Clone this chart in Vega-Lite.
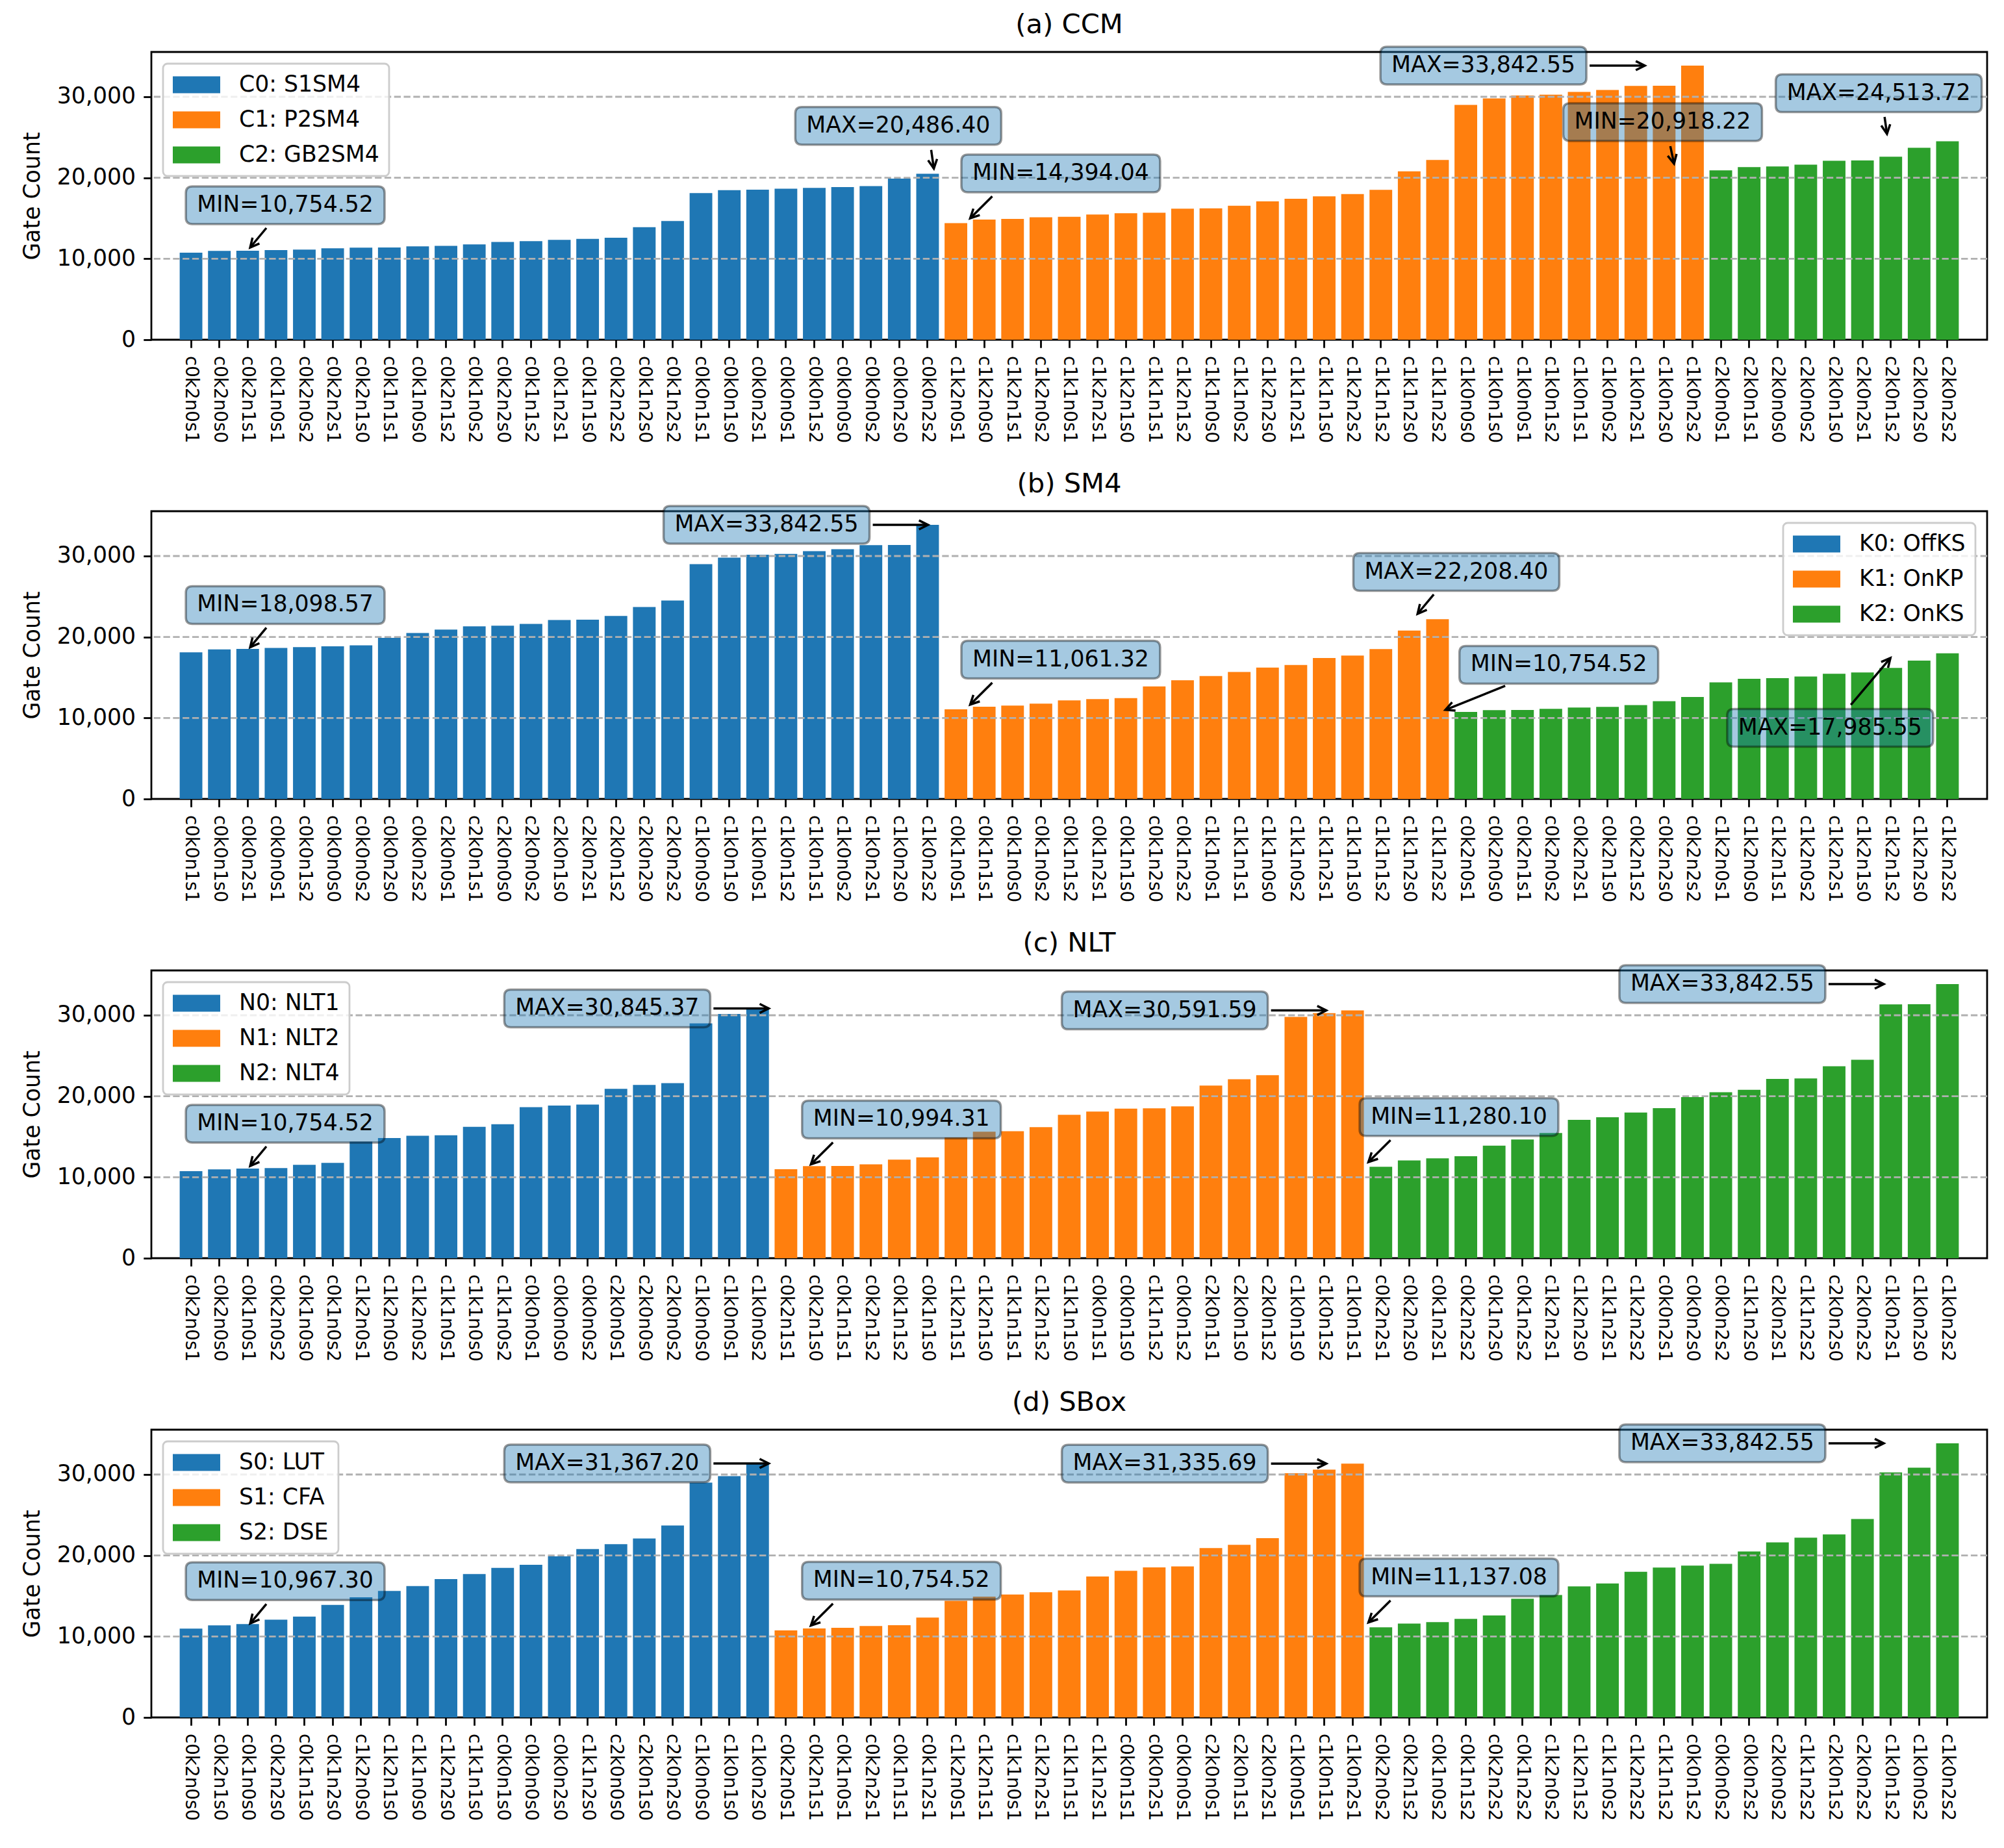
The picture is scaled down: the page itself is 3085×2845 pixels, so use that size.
{
  "$schema": "https://vega.github.io/schema/vega-lite/v6.json",
  "description": "Gate count per configuration, grouped four ways",
  "background": "white",
  "padding": {"left": 30, "top": 16, "right": 0, "bottom": 0},
  "spacing": 39,
  "config": {
    "font": "DejaVu Sans",
    "numberFormat": ",",
    "view": {"stroke": "black", "strokeWidth": 2.8},
    "title": {"fontSize": 41.7, "fontWeight": "normal", "color": "black", "offset": 5, "baseline": "alphabetic"},
    "axis": {"labelColor": "black", "tickColor": "black", "tickWidth": 2.8, "tickSize": 12.2, "labelPadding": 12.2, "domain": false, "grid": false, "titleColor": "black", "titleFontWeight": "normal"},
    "axisX": {"labelFontSize": 27.8, "labelAngle": 90, "labelAlign": "left", "labelBaseline": "middle", "labelOverlap": false},
    "axisY": {"labelFontSize": 34.7, "titleFontSize": 34.7, "titlePadding": 20},
    "legend": {"labelFontSize": 34.7, "labelColor": "black", "padding": 15, "rowPadding": 18, "labelOffset": 67, "strokeColor": "#cccccc", "fillColor": "rgba(255,255,255,0.8)", "cornerRadius": 7, "strokeWidth": 2.8, "offset": 18, "labelLimit": 600, "direction": "vertical"}
  },
  "resolve": {"scale": {"color": "independent", "x": "independent", "y": "independent"}, "legend": {"color": "independent"}},
  "datasets": {
    "gates": [
      {"cfg": "c0k2n0s1", "C": "C0: S1SM4", "K": "K2: OnKS", "N": "N0: NLT1", "S": "S1: CFA", "v": 10754.52},
      {"cfg": "c0k2n0s0", "C": "C0: S1SM4", "K": "K2: OnKS", "N": "N0: NLT1", "S": "S0: LUT", "v": 10967.30},
      {"cfg": "c0k2n1s1", "C": "C0: S1SM4", "K": "K2: OnKS", "N": "N1: NLT2", "S": "S1: CFA", "v": 10994.31},
      {"cfg": "c0k1n0s1", "C": "C0: S1SM4", "K": "K1: OnKP", "N": "N0: NLT1", "S": "S1: CFA", "v": 11061.32},
      {"cfg": "c0k2n0s2", "C": "C0: S1SM4", "K": "K2: OnKS", "N": "N0: NLT1", "S": "S2: DSE", "v": 11137.08},
      {"cfg": "c0k2n2s1", "C": "C0: S1SM4", "K": "K2: OnKS", "N": "N2: NLT4", "S": "S1: CFA", "v": 11280.10},
      {"cfg": "c0k2n1s0", "C": "C0: S1SM4", "K": "K2: OnKS", "N": "N1: NLT2", "S": "S0: LUT", "v": 11370},
      {"cfg": "c0k1n1s1", "C": "C0: S1SM4", "K": "K1: OnKP", "N": "N1: NLT2", "S": "S1: CFA", "v": 11390},
      {"cfg": "c0k1n0s0", "C": "C0: S1SM4", "K": "K1: OnKP", "N": "N0: NLT1", "S": "S0: LUT", "v": 11540},
      {"cfg": "c0k2n1s2", "C": "C0: S1SM4", "K": "K2: OnKS", "N": "N1: NLT2", "S": "S2: DSE", "v": 11600},
      {"cfg": "c0k1n0s2", "C": "C0: S1SM4", "K": "K1: OnKP", "N": "N0: NLT1", "S": "S2: DSE", "v": 11770},
      {"cfg": "c0k2n2s0", "C": "C0: S1SM4", "K": "K2: OnKS", "N": "N2: NLT4", "S": "S0: LUT", "v": 12080},
      {"cfg": "c0k1n1s2", "C": "C0: S1SM4", "K": "K1: OnKP", "N": "N1: NLT2", "S": "S2: DSE", "v": 12170},
      {"cfg": "c0k1n2s1", "C": "C0: S1SM4", "K": "K1: OnKP", "N": "N2: NLT4", "S": "S1: CFA", "v": 12340},
      {"cfg": "c0k1n1s0", "C": "C0: S1SM4", "K": "K1: OnKP", "N": "N1: NLT2", "S": "S0: LUT", "v": 12450},
      {"cfg": "c0k2n2s2", "C": "C0: S1SM4", "K": "K2: OnKS", "N": "N2: NLT4", "S": "S2: DSE", "v": 12600},
      {"cfg": "c0k1n2s0", "C": "C0: S1SM4", "K": "K1: OnKP", "N": "N2: NLT4", "S": "S0: LUT", "v": 13900},
      {"cfg": "c0k1n2s2", "C": "C0: S1SM4", "K": "K1: OnKP", "N": "N2: NLT4", "S": "S2: DSE", "v": 14650},
      {"cfg": "c0k0n1s1", "C": "C0: S1SM4", "K": "K0: OffKS", "N": "N1: NLT2", "S": "S1: CFA", "v": 18098.57},
      {"cfg": "c0k0n1s0", "C": "C0: S1SM4", "K": "K0: OffKS", "N": "N1: NLT2", "S": "S0: LUT", "v": 18460},
      {"cfg": "c0k0n2s1", "C": "C0: S1SM4", "K": "K0: OffKS", "N": "N2: NLT4", "S": "S1: CFA", "v": 18530},
      {"cfg": "c0k0n0s1", "C": "C0: S1SM4", "K": "K0: OffKS", "N": "N0: NLT1", "S": "S1: CFA", "v": 18650},
      {"cfg": "c0k0n1s2", "C": "C0: S1SM4", "K": "K0: OffKS", "N": "N1: NLT2", "S": "S2: DSE", "v": 18750},
      {"cfg": "c0k0n0s0", "C": "C0: S1SM4", "K": "K0: OffKS", "N": "N0: NLT1", "S": "S0: LUT", "v": 18850},
      {"cfg": "c0k0n0s2", "C": "C0: S1SM4", "K": "K0: OffKS", "N": "N0: NLT1", "S": "S2: DSE", "v": 18980},
      {"cfg": "c0k0n2s0", "C": "C0: S1SM4", "K": "K0: OffKS", "N": "N2: NLT4", "S": "S0: LUT", "v": 19900},
      {"cfg": "c0k0n2s2", "C": "C0: S1SM4", "K": "K0: OffKS", "N": "N2: NLT4", "S": "S2: DSE", "v": 20486.40},
      {"cfg": "c1k2n0s1", "C": "C1: P2SM4", "K": "K2: OnKS", "N": "N0: NLT1", "S": "S1: CFA", "v": 14394.04},
      {"cfg": "c1k2n0s0", "C": "C1: P2SM4", "K": "K2: OnKS", "N": "N0: NLT1", "S": "S0: LUT", "v": 14830},
      {"cfg": "c1k2n1s1", "C": "C1: P2SM4", "K": "K2: OnKS", "N": "N1: NLT2", "S": "S1: CFA", "v": 14910},
      {"cfg": "c1k2n0s2", "C": "C1: P2SM4", "K": "K2: OnKS", "N": "N0: NLT1", "S": "S2: DSE", "v": 15130},
      {"cfg": "c1k1n0s1", "C": "C1: P2SM4", "K": "K1: OnKP", "N": "N0: NLT1", "S": "S1: CFA", "v": 15180},
      {"cfg": "c1k2n2s1", "C": "C1: P2SM4", "K": "K2: OnKS", "N": "N2: NLT4", "S": "S1: CFA", "v": 15460},
      {"cfg": "c1k2n1s0", "C": "C1: P2SM4", "K": "K2: OnKS", "N": "N1: NLT2", "S": "S0: LUT", "v": 15620},
      {"cfg": "c1k1n1s1", "C": "C1: P2SM4", "K": "K1: OnKP", "N": "N1: NLT2", "S": "S1: CFA", "v": 15680},
      {"cfg": "c1k2n1s2", "C": "C1: P2SM4", "K": "K2: OnKS", "N": "N1: NLT2", "S": "S2: DSE", "v": 16180},
      {"cfg": "c1k1n0s0", "C": "C1: P2SM4", "K": "K1: OnKP", "N": "N0: NLT1", "S": "S0: LUT", "v": 16220},
      {"cfg": "c1k1n0s2", "C": "C1: P2SM4", "K": "K1: OnKP", "N": "N0: NLT1", "S": "S2: DSE", "v": 16550},
      {"cfg": "c1k2n2s0", "C": "C1: P2SM4", "K": "K2: OnKS", "N": "N2: NLT4", "S": "S0: LUT", "v": 17090},
      {"cfg": "c1k1n2s1", "C": "C1: P2SM4", "K": "K1: OnKP", "N": "N2: NLT4", "S": "S1: CFA", "v": 17400},
      {"cfg": "c1k1n1s0", "C": "C1: P2SM4", "K": "K1: OnKP", "N": "N1: NLT2", "S": "S0: LUT", "v": 17700},
      {"cfg": "c1k2n2s2", "C": "C1: P2SM4", "K": "K2: OnKS", "N": "N2: NLT4", "S": "S2: DSE", "v": 17985.55},
      {"cfg": "c1k1n1s2", "C": "C1: P2SM4", "K": "K1: OnKP", "N": "N1: NLT2", "S": "S2: DSE", "v": 18500},
      {"cfg": "c1k1n2s0", "C": "C1: P2SM4", "K": "K1: OnKP", "N": "N2: NLT4", "S": "S0: LUT", "v": 20800},
      {"cfg": "c1k1n2s2", "C": "C1: P2SM4", "K": "K1: OnKP", "N": "N2: NLT4", "S": "S2: DSE", "v": 22208.40},
      {"cfg": "c1k0n0s0", "C": "C1: P2SM4", "K": "K0: OffKS", "N": "N0: NLT1", "S": "S0: LUT", "v": 29000},
      {"cfg": "c1k0n1s0", "C": "C1: P2SM4", "K": "K0: OffKS", "N": "N1: NLT2", "S": "S0: LUT", "v": 29800},
      {"cfg": "c1k0n0s1", "C": "C1: P2SM4", "K": "K0: OffKS", "N": "N0: NLT1", "S": "S1: CFA", "v": 30150},
      {"cfg": "c1k0n1s2", "C": "C1: P2SM4", "K": "K0: OffKS", "N": "N1: NLT2", "S": "S2: DSE", "v": 30260},
      {"cfg": "c1k0n1s1", "C": "C1: P2SM4", "K": "K0: OffKS", "N": "N1: NLT2", "S": "S1: CFA", "v": 30591.59},
      {"cfg": "c1k0n0s2", "C": "C1: P2SM4", "K": "K0: OffKS", "N": "N0: NLT1", "S": "S2: DSE", "v": 30845.37},
      {"cfg": "c1k0n2s1", "C": "C1: P2SM4", "K": "K0: OffKS", "N": "N2: NLT4", "S": "S1: CFA", "v": 31335.69},
      {"cfg": "c1k0n2s0", "C": "C1: P2SM4", "K": "K0: OffKS", "N": "N2: NLT4", "S": "S0: LUT", "v": 31367.20},
      {"cfg": "c1k0n2s2", "C": "C1: P2SM4", "K": "K0: OffKS", "N": "N2: NLT4", "S": "S2: DSE", "v": 33842.55},
      {"cfg": "c2k0n0s1", "C": "C2: GB2SM4", "K": "K0: OffKS", "N": "N0: NLT1", "S": "S1: CFA", "v": 20918.22},
      {"cfg": "c2k0n1s1", "C": "C2: GB2SM4", "K": "K0: OffKS", "N": "N1: NLT2", "S": "S1: CFA", "v": 21310},
      {"cfg": "c2k0n0s0", "C": "C2: GB2SM4", "K": "K0: OffKS", "N": "N0: NLT1", "S": "S0: LUT", "v": 21400},
      {"cfg": "c2k0n0s2", "C": "C2: GB2SM4", "K": "K0: OffKS", "N": "N0: NLT1", "S": "S2: DSE", "v": 21620},
      {"cfg": "c2k0n1s0", "C": "C2: GB2SM4", "K": "K0: OffKS", "N": "N1: NLT2", "S": "S0: LUT", "v": 22100},
      {"cfg": "c2k0n2s1", "C": "C2: GB2SM4", "K": "K0: OffKS", "N": "N2: NLT4", "S": "S1: CFA", "v": 22130},
      {"cfg": "c2k0n1s2", "C": "C2: GB2SM4", "K": "K0: OffKS", "N": "N1: NLT2", "S": "S2: DSE", "v": 22600},
      {"cfg": "c2k0n2s0", "C": "C2: GB2SM4", "K": "K0: OffKS", "N": "N2: NLT4", "S": "S0: LUT", "v": 23700},
      {"cfg": "c2k0n2s2", "C": "C2: GB2SM4", "K": "K0: OffKS", "N": "N2: NLT4", "S": "S2: DSE", "v": 24513.72}
    ],
    "grid": [{"g": 10000}, {"g": 20000}, {"g": 30000}],
    "notes": [
      {"p": "a", "kind": "MIN", "label": "MIN=10,754.52", "tx": 1.47, "ty": 16603, "sx": 0.76, "sy": 13796, "ex": 0.15, "ey": 11390, "ang": -140},
      {"p": "a", "kind": "MAX", "label": "MAX=20,486.40", "tx": 24.56, "ty": 26405, "sx": 25.8, "sy": 23440, "ex": 25.9, "ey": 21140, "ang": 172},
      {"p": "a", "kind": "MIN", "label": "MIN=14,394.04", "tx": 30.68, "ty": 20534, "sx": 28.1, "sy": 17700, "ex": 27.27, "ey": 15000, "ang": -135},
      {"p": "a", "kind": "MAX", "label": "MAX=33,842.55", "tx": 46.6, "ty": 33842, "sx": 50.6, "sy": 33842, "ex": 52.68, "ey": 33842, "ang": 90},
      {"p": "a", "kind": "MIN", "label": "MIN=20,918.22", "tx": 53.35, "ty": 26870, "sx": 53.64, "sy": 23903, "ex": 53.78, "ey": 21737, "ang": 168},
      {"p": "a", "kind": "MAX", "label": "MAX=24,513.72", "tx": 61.49, "ty": 30432, "sx": 61.71, "sy": 27512, "ex": 61.8, "ey": 25427, "ang": 172},
      {"p": "b", "kind": "MIN", "label": "MIN=18,098.57", "tx": 1.47, "ty": 23947, "sx": 0.76, "sy": 21140, "ex": 0.15, "ey": 18734, "ang": -140},
      {"p": "b", "kind": "MAX", "label": "MAX=33,842.55", "tx": 19.6, "ty": 33842, "sx": 23.6, "sy": 33842, "ex": 25.68, "ey": 33842, "ang": 90},
      {"p": "b", "kind": "MIN", "label": "MIN=11,061.32", "tx": 30.68, "ty": 17201, "sx": 28.1, "sy": 14360, "ex": 27.27, "ey": 11660, "ang": -135},
      {"p": "b", "kind": "MAX", "label": "MAX=22,208.40", "tx": 45.58, "ty": 28033, "sx": 44.73, "sy": 25266, "ex": 44.12, "ey": 22860, "ang": -140},
      {"p": "b", "kind": "MIN", "label": "MIN=10,754.52", "tx": 49.44, "ty": 16564, "sx": 47.42, "sy": 13957, "ex": 45.17, "ey": 11000, "ang": -112},
      {"p": "b", "kind": "MAX", "label": "MAX=17,985.55", "tx": 59.66, "ty": 8783, "sx": 60.44, "sy": 11630, "ex": 61.93, "ey": 17405, "ang": 40},
      {"p": "c", "kind": "MIN", "label": "MIN=10,754.52", "tx": 1.47, "ty": 16603, "sx": 0.76, "sy": 13796, "ex": 0.15, "ey": 11390, "ang": -140},
      {"p": "c", "kind": "MAX", "label": "MAX=30,845.37", "tx": 13.6, "ty": 30845, "sx": 17.6, "sy": 30845, "ex": 19.68, "ey": 30845, "ang": 90},
      {"p": "c", "kind": "MIN", "label": "MIN=10,994.31", "tx": 24.68, "ty": 17134, "sx": 22.1, "sy": 14294, "ex": 21.27, "ey": 11594, "ang": -135},
      {"p": "c", "kind": "MAX", "label": "MAX=30,591.59", "tx": 34.6, "ty": 30592, "sx": 38.6, "sy": 30592, "ex": 40.68, "ey": 30592, "ang": 90},
      {"p": "c", "kind": "MIN", "label": "MIN=11,280.10", "tx": 45.68, "ty": 17420, "sx": 43.1, "sy": 14580, "ex": 42.27, "ey": 11880, "ang": -135},
      {"p": "c", "kind": "MAX", "label": "MAX=33,842.55", "tx": 55.6, "ty": 33842, "sx": 59.6, "sy": 33842, "ex": 61.68, "ey": 33842, "ang": 90},
      {"p": "d", "kind": "MIN", "label": "MIN=10,967.30", "tx": 1.47, "ty": 16817, "sx": 0.76, "sy": 14009, "ex": 0.15, "ey": 11603, "ang": -140},
      {"p": "d", "kind": "MAX", "label": "MAX=31,367.20", "tx": 13.6, "ty": 31367, "sx": 17.6, "sy": 31367, "ex": 19.68, "ey": 31367, "ang": 90},
      {"p": "d", "kind": "MIN", "label": "MIN=10,754.52", "tx": 24.68, "ty": 16894, "sx": 22.1, "sy": 14054, "ex": 21.27, "ey": 11354, "ang": -135},
      {"p": "d", "kind": "MAX", "label": "MAX=31,335.69", "tx": 34.6, "ty": 31336, "sx": 38.6, "sy": 31336, "ex": 40.68, "ey": 31336, "ang": 90},
      {"p": "d", "kind": "MIN", "label": "MIN=11,137.08", "tx": 45.68, "ty": 17277, "sx": 43.1, "sy": 14437, "ex": 42.27, "ey": 11737, "ang": -135},
      {"p": "d", "kind": "MAX", "label": "MAX=33,842.55", "tx": 55.6, "ty": 33842, "sx": 59.6, "sy": 33842, "ex": 61.68, "ey": 33842, "ang": 90}
    ]
  },
  "vconcat": [
    {
      "title": "(a) CCM",
      "width": 2826, "height": 443,
      "resolve": {"scale": {"x": "independent"}},
      "layer": [
        {
          "data": {"name": "gates"},
          "mark": {"type": "bar"},
          "encoding": {
            "x": {"field": "cfg", "type": "nominal", "title": null,
              "sort": ["c0k2n0s1","c0k2n0s0","c0k2n1s1","c0k1n0s1","c0k2n0s2","c0k2n2s1","c0k2n1s0","c0k1n1s1","c0k1n0s0","c0k2n1s2","c0k1n0s2","c0k2n2s0","c0k1n1s2","c0k1n2s1","c0k1n1s0","c0k2n2s2","c0k1n2s0","c0k1n2s2","c0k0n1s1","c0k0n1s0","c0k0n2s1","c0k0n0s1","c0k0n1s2","c0k0n0s0","c0k0n0s2","c0k0n2s0","c0k0n2s2","c1k2n0s1","c1k2n0s0","c1k2n1s1","c1k2n0s2","c1k1n0s1","c1k2n2s1","c1k2n1s0","c1k1n1s1","c1k2n1s2","c1k1n0s0","c1k1n0s2","c1k2n2s0","c1k1n2s1","c1k1n1s0","c1k2n2s2","c1k1n1s2","c1k1n2s0","c1k1n2s2","c1k0n0s0","c1k0n1s0","c1k0n0s1","c1k0n1s2","c1k0n1s1","c1k0n0s2","c1k0n2s1","c1k0n2s0","c1k0n2s2","c2k0n0s1","c2k0n1s1","c2k0n0s0","c2k0n0s2","c2k0n1s0","c2k0n2s1","c2k0n1s2","c2k0n2s0","c2k0n2s2"],
              "scale": {"paddingInner": 0.2, "paddingOuter": 3.172}},
            "y": {"field": "v", "type": "quantitative", "title": "Gate Count",
              "scale": {"domain": [0, 35534], "nice": false},
              "axis": {"values": [0, 10000, 20000, 30000], "format": ",", "labelExpr": "format(datum.value, ',')"}},
            "color": {"field": "C", "type": "nominal",
              "scale": {"domain": ["C0: S1SM4", "C1: P2SM4", "C2: GB2SM4"], "range": ["#1f77b4", "#ff7f0e", "#2ca02c"]},
              "legend": {"title": null, "orient": "top-left", "symbolType": "M-1,-0.743H3.171V0.743H-1Z", "symbolSize": 1225, "symbolStrokeWidth": 0, "symbolOpacity": 1}}
          }
        },
        {
          "data": {"name": "grid"},
          "mark": {"type": "rule", "stroke": "#b0b0b0", "strokeWidth": 2.8, "strokeDash": [10.3, 4.5]},
          "encoding": {"y": {"field": "g", "type": "quantitative", "scale": {"domain": [0, 35534], "nice": false}}}
        },
        {
          "data": {"name": "notes"},
          "transform": [{"filter": "datum.p == 'a'"}],
          "mark": {"type": "rule", "stroke": "black", "strokeWidth": 3.5},
          "encoding": {
            "x": {"field": "sx", "type": "quantitative", "scale": {"domain": [-3.572, 65.572], "nice": false, "zero": false}, "axis": null},
            "x2": {"field": "ex"},
            "y": {"field": "sy", "type": "quantitative", "scale": {"domain": [0, 35534], "nice": false}},
            "y2": {"field": "ey"}
          }
        },
        {
          "data": {"name": "notes"},
          "transform": [{"filter": "datum.p == 'a'"}],
          "mark": {"type": "point", "shape": "M-0.5,1L0,0L0.5,1", "size": 773, "filled": false, "stroke": "black", "strokeWidth": 3.5, "opacity": 1},
          "encoding": {
            "x": {"field": "ex", "type": "quantitative", "scale": {"domain": [-3.572, 65.572], "nice": false, "zero": false}, "axis": null},
            "y": {"field": "ey", "type": "quantitative", "scale": {"domain": [0, 35534], "nice": false}},
            "angle": {"field": "ang", "type": "quantitative", "scale": null}
          }
        },
        {
          "data": {"name": "notes"},
          "transform": [{"filter": "datum.p == 'a'"}],
          "mark": {"type": "point", "filled": true, "size": 100489, "fill": "#1f77b4", "fillOpacity": 0.4, "stroke": "black", "strokeOpacity": 0.4, "strokeWidth": 3.5, "opacity": 1},
          "encoding": {
            "x": {"field": "tx", "type": "quantitative", "scale": {"domain": [-3.572, 65.572], "nice": false, "zero": false}, "axis": null},
            "y": {"field": "ty", "type": "quantitative", "scale": {"domain": [0, 35534], "nice": false}},
            "shape": {"field": "kind", "type": "nominal", "legend": null,
              "scale": {"domain": ["MIN", "MAX"], "range": ["M-0.902,-0.183L0.902,-0.183Q0.965,-0.183 0.965,-0.12L0.965,0.12Q0.965,0.183 0.902,0.183L-0.902,0.183Q-0.965,0.183 -0.965,0.12L-0.965,-0.12Q-0.965,-0.183 -0.902,-0.183Z", "M-0.937,-0.183L0.937,-0.183Q1,-0.183 1,-0.12L1,0.12Q1,0.183 0.937,0.183L-0.937,0.183Q-1,0.183 -1,0.12L-1,-0.12Q-1,-0.183 -0.937,-0.183Z"]}}
          }
        },
        {
          "data": {"name": "notes"},
          "transform": [{"filter": "datum.p == 'a'"}],
          "mark": {"type": "text", "fontSize": 34.7, "align": "center", "baseline": "middle", "color": "black"},
          "encoding": {
            "x": {"field": "tx", "type": "quantitative", "scale": {"domain": [-3.572, 65.572], "nice": false, "zero": false}, "axis": null},
            "y": {"field": "ty", "type": "quantitative", "scale": {"domain": [0, 35534], "nice": false}},
            "text": {"field": "label"}
          }
        }
      ]
    },
    {
      "title": "(b) SM4",
      "width": 2826, "height": 443,
      "resolve": {"scale": {"x": "independent"}},
      "layer": [
        {
          "data": {"name": "gates"},
          "mark": {"type": "bar"},
          "encoding": {
            "x": {"field": "cfg", "type": "nominal", "title": null,
              "sort": ["c0k0n1s1","c0k0n1s0","c0k0n2s1","c0k0n0s1","c0k0n1s2","c0k0n0s0","c0k0n0s2","c0k0n2s0","c0k0n2s2","c2k0n0s1","c2k0n1s1","c2k0n0s0","c2k0n0s2","c2k0n1s0","c2k0n2s1","c2k0n1s2","c2k0n2s0","c2k0n2s2","c1k0n0s0","c1k0n1s0","c1k0n0s1","c1k0n1s2","c1k0n1s1","c1k0n0s2","c1k0n2s1","c1k0n2s0","c1k0n2s2","c0k1n0s1","c0k1n1s1","c0k1n0s0","c0k1n0s2","c0k1n1s2","c0k1n2s1","c0k1n1s0","c0k1n2s0","c0k1n2s2","c1k1n0s1","c1k1n1s1","c1k1n0s0","c1k1n0s2","c1k1n2s1","c1k1n1s0","c1k1n1s2","c1k1n2s0","c1k1n2s2","c0k2n0s1","c0k2n0s0","c0k2n1s1","c0k2n0s2","c0k2n2s1","c0k2n1s0","c0k2n1s2","c0k2n2s0","c0k2n2s2","c1k2n0s1","c1k2n0s0","c1k2n1s1","c1k2n0s2","c1k2n2s1","c1k2n1s0","c1k2n1s2","c1k2n2s0","c1k2n2s2"],
              "scale": {"paddingInner": 0.2, "paddingOuter": 3.172}},
            "y": {"field": "v", "type": "quantitative", "title": "Gate Count",
              "scale": {"domain": [0, 35534], "nice": false},
              "axis": {"values": [0, 10000, 20000, 30000], "format": ",", "labelExpr": "format(datum.value, ',')"}},
            "color": {"field": "K", "type": "nominal",
              "scale": {"domain": ["K0: OffKS", "K1: OnKP", "K2: OnKS"], "range": ["#1f77b4", "#ff7f0e", "#2ca02c"]},
              "legend": {"title": null, "orient": "top-right", "symbolType": "M-1,-0.743H3.171V0.743H-1Z", "symbolSize": 1225, "symbolStrokeWidth": 0, "symbolOpacity": 1}}
          }
        },
        {
          "data": {"name": "grid"},
          "mark": {"type": "rule", "stroke": "#b0b0b0", "strokeWidth": 2.8, "strokeDash": [10.3, 4.5]},
          "encoding": {"y": {"field": "g", "type": "quantitative", "scale": {"domain": [0, 35534], "nice": false}}}
        },
        {
          "data": {"name": "notes"},
          "transform": [{"filter": "datum.p == 'b'"}],
          "mark": {"type": "rule", "stroke": "black", "strokeWidth": 3.5},
          "encoding": {
            "x": {"field": "sx", "type": "quantitative", "scale": {"domain": [-3.572, 65.572], "nice": false, "zero": false}, "axis": null},
            "x2": {"field": "ex"},
            "y": {"field": "sy", "type": "quantitative", "scale": {"domain": [0, 35534], "nice": false}},
            "y2": {"field": "ey"}
          }
        },
        {
          "data": {"name": "notes"},
          "transform": [{"filter": "datum.p == 'b'"}],
          "mark": {"type": "point", "shape": "M-0.5,1L0,0L0.5,1", "size": 773, "filled": false, "stroke": "black", "strokeWidth": 3.5, "opacity": 1},
          "encoding": {
            "x": {"field": "ex", "type": "quantitative", "scale": {"domain": [-3.572, 65.572], "nice": false, "zero": false}, "axis": null},
            "y": {"field": "ey", "type": "quantitative", "scale": {"domain": [0, 35534], "nice": false}},
            "angle": {"field": "ang", "type": "quantitative", "scale": null}
          }
        },
        {
          "data": {"name": "notes"},
          "transform": [{"filter": "datum.p == 'b'"}],
          "mark": {"type": "point", "filled": true, "size": 100489, "fill": "#1f77b4", "fillOpacity": 0.4, "stroke": "black", "strokeOpacity": 0.4, "strokeWidth": 3.5, "opacity": 1},
          "encoding": {
            "x": {"field": "tx", "type": "quantitative", "scale": {"domain": [-3.572, 65.572], "nice": false, "zero": false}, "axis": null},
            "y": {"field": "ty", "type": "quantitative", "scale": {"domain": [0, 35534], "nice": false}},
            "shape": {"field": "kind", "type": "nominal", "legend": null,
              "scale": {"domain": ["MIN", "MAX"], "range": ["M-0.902,-0.183L0.902,-0.183Q0.965,-0.183 0.965,-0.12L0.965,0.12Q0.965,0.183 0.902,0.183L-0.902,0.183Q-0.965,0.183 -0.965,0.12L-0.965,-0.12Q-0.965,-0.183 -0.902,-0.183Z", "M-0.937,-0.183L0.937,-0.183Q1,-0.183 1,-0.12L1,0.12Q1,0.183 0.937,0.183L-0.937,0.183Q-1,0.183 -1,0.12L-1,-0.12Q-1,-0.183 -0.937,-0.183Z"]}}
          }
        },
        {
          "data": {"name": "notes"},
          "transform": [{"filter": "datum.p == 'b'"}],
          "mark": {"type": "text", "fontSize": 34.7, "align": "center", "baseline": "middle", "color": "black"},
          "encoding": {
            "x": {"field": "tx", "type": "quantitative", "scale": {"domain": [-3.572, 65.572], "nice": false, "zero": false}, "axis": null},
            "y": {"field": "ty", "type": "quantitative", "scale": {"domain": [0, 35534], "nice": false}},
            "text": {"field": "label"}
          }
        }
      ]
    },
    {
      "title": "(c) NLT",
      "width": 2826, "height": 443,
      "resolve": {"scale": {"x": "independent"}},
      "layer": [
        {
          "data": {"name": "gates"},
          "mark": {"type": "bar"},
          "encoding": {
            "x": {"field": "cfg", "type": "nominal", "title": null,
              "sort": ["c0k2n0s1","c0k2n0s0","c0k1n0s1","c0k2n0s2","c0k1n0s0","c0k1n0s2","c1k2n0s1","c1k2n0s0","c1k2n0s2","c1k1n0s1","c1k1n0s0","c1k1n0s2","c0k0n0s1","c0k0n0s0","c0k0n0s2","c2k0n0s1","c2k0n0s0","c2k0n0s2","c1k0n0s0","c1k0n0s1","c1k0n0s2","c0k2n1s1","c0k2n1s0","c0k1n1s1","c0k2n1s2","c0k1n1s2","c0k1n1s0","c1k2n1s1","c1k2n1s0","c1k1n1s1","c1k2n1s2","c1k1n1s0","c0k0n1s1","c0k0n1s0","c1k1n1s2","c0k0n1s2","c2k0n1s1","c2k0n1s0","c2k0n1s2","c1k0n1s0","c1k0n1s2","c1k0n1s1","c0k2n2s1","c0k2n2s0","c0k1n2s1","c0k2n2s2","c0k1n2s0","c0k1n2s2","c1k2n2s1","c1k2n2s0","c1k1n2s1","c1k2n2s2","c0k0n2s1","c0k0n2s0","c0k0n2s2","c1k1n2s0","c2k0n2s1","c1k1n2s2","c2k0n2s0","c2k0n2s2","c1k0n2s1","c1k0n2s0","c1k0n2s2"],
              "scale": {"paddingInner": 0.2, "paddingOuter": 3.172}},
            "y": {"field": "v", "type": "quantitative", "title": "Gate Count",
              "scale": {"domain": [0, 35534], "nice": false},
              "axis": {"values": [0, 10000, 20000, 30000], "format": ",", "labelExpr": "format(datum.value, ',')"}},
            "color": {"field": "N", "type": "nominal",
              "scale": {"domain": ["N0: NLT1", "N1: NLT2", "N2: NLT4"], "range": ["#1f77b4", "#ff7f0e", "#2ca02c"]},
              "legend": {"title": null, "orient": "top-left", "symbolType": "M-1,-0.743H3.171V0.743H-1Z", "symbolSize": 1225, "symbolStrokeWidth": 0, "symbolOpacity": 1}}
          }
        },
        {
          "data": {"name": "grid"},
          "mark": {"type": "rule", "stroke": "#b0b0b0", "strokeWidth": 2.8, "strokeDash": [10.3, 4.5]},
          "encoding": {"y": {"field": "g", "type": "quantitative", "scale": {"domain": [0, 35534], "nice": false}}}
        },
        {
          "data": {"name": "notes"},
          "transform": [{"filter": "datum.p == 'c'"}],
          "mark": {"type": "rule", "stroke": "black", "strokeWidth": 3.5},
          "encoding": {
            "x": {"field": "sx", "type": "quantitative", "scale": {"domain": [-3.572, 65.572], "nice": false, "zero": false}, "axis": null},
            "x2": {"field": "ex"},
            "y": {"field": "sy", "type": "quantitative", "scale": {"domain": [0, 35534], "nice": false}},
            "y2": {"field": "ey"}
          }
        },
        {
          "data": {"name": "notes"},
          "transform": [{"filter": "datum.p == 'c'"}],
          "mark": {"type": "point", "shape": "M-0.5,1L0,0L0.5,1", "size": 773, "filled": false, "stroke": "black", "strokeWidth": 3.5, "opacity": 1},
          "encoding": {
            "x": {"field": "ex", "type": "quantitative", "scale": {"domain": [-3.572, 65.572], "nice": false, "zero": false}, "axis": null},
            "y": {"field": "ey", "type": "quantitative", "scale": {"domain": [0, 35534], "nice": false}},
            "angle": {"field": "ang", "type": "quantitative", "scale": null}
          }
        },
        {
          "data": {"name": "notes"},
          "transform": [{"filter": "datum.p == 'c'"}],
          "mark": {"type": "point", "filled": true, "size": 100489, "fill": "#1f77b4", "fillOpacity": 0.4, "stroke": "black", "strokeOpacity": 0.4, "strokeWidth": 3.5, "opacity": 1},
          "encoding": {
            "x": {"field": "tx", "type": "quantitative", "scale": {"domain": [-3.572, 65.572], "nice": false, "zero": false}, "axis": null},
            "y": {"field": "ty", "type": "quantitative", "scale": {"domain": [0, 35534], "nice": false}},
            "shape": {"field": "kind", "type": "nominal", "legend": null,
              "scale": {"domain": ["MIN", "MAX"], "range": ["M-0.902,-0.183L0.902,-0.183Q0.965,-0.183 0.965,-0.12L0.965,0.12Q0.965,0.183 0.902,0.183L-0.902,0.183Q-0.965,0.183 -0.965,0.12L-0.965,-0.12Q-0.965,-0.183 -0.902,-0.183Z", "M-0.937,-0.183L0.937,-0.183Q1,-0.183 1,-0.12L1,0.12Q1,0.183 0.937,0.183L-0.937,0.183Q-1,0.183 -1,0.12L-1,-0.12Q-1,-0.183 -0.937,-0.183Z"]}}
          }
        },
        {
          "data": {"name": "notes"},
          "transform": [{"filter": "datum.p == 'c'"}],
          "mark": {"type": "text", "fontSize": 34.7, "align": "center", "baseline": "middle", "color": "black"},
          "encoding": {
            "x": {"field": "tx", "type": "quantitative", "scale": {"domain": [-3.572, 65.572], "nice": false, "zero": false}, "axis": null},
            "y": {"field": "ty", "type": "quantitative", "scale": {"domain": [0, 35534], "nice": false}},
            "text": {"field": "label"}
          }
        }
      ]
    },
    {
      "title": "(d) SBox",
      "width": 2826, "height": 443,
      "resolve": {"scale": {"x": "independent"}},
      "layer": [
        {
          "data": {"name": "gates"},
          "mark": {"type": "bar"},
          "encoding": {
            "x": {"field": "cfg", "type": "nominal", "title": null,
              "sort": ["c0k2n0s0","c0k2n1s0","c0k1n0s0","c0k2n2s0","c0k1n1s0","c0k1n2s0","c1k2n0s0","c1k2n1s0","c1k1n0s0","c1k2n2s0","c1k1n1s0","c0k0n1s0","c0k0n0s0","c0k0n2s0","c1k1n2s0","c2k0n0s0","c2k0n1s0","c2k0n2s0","c1k0n0s0","c1k0n1s0","c1k0n2s0","c0k2n0s1","c0k2n1s1","c0k1n0s1","c0k2n2s1","c0k1n1s1","c0k1n2s1","c1k2n0s1","c1k2n1s1","c1k1n0s1","c1k2n2s1","c1k1n1s1","c1k1n2s1","c0k0n1s1","c0k0n2s1","c0k0n0s1","c2k0n0s1","c2k0n1s1","c2k0n2s1","c1k0n0s1","c1k0n1s1","c1k0n2s1","c0k2n0s2","c0k2n1s2","c0k1n0s2","c0k1n1s2","c0k2n2s2","c0k1n2s2","c1k2n0s2","c1k2n1s2","c1k1n0s2","c1k2n2s2","c1k1n1s2","c0k0n1s2","c0k0n0s2","c0k0n2s2","c2k0n0s2","c1k1n2s2","c2k0n1s2","c2k0n2s2","c1k0n1s2","c1k0n0s2","c1k0n2s2"],
              "scale": {"paddingInner": 0.2, "paddingOuter": 3.172}},
            "y": {"field": "v", "type": "quantitative", "title": "Gate Count",
              "scale": {"domain": [0, 35534], "nice": false},
              "axis": {"values": [0, 10000, 20000, 30000], "format": ",", "labelExpr": "format(datum.value, ',')"}},
            "color": {"field": "S", "type": "nominal",
              "scale": {"domain": ["S0: LUT", "S1: CFA", "S2: DSE"], "range": ["#1f77b4", "#ff7f0e", "#2ca02c"]},
              "legend": {"title": null, "orient": "top-left", "symbolType": "M-1,-0.743H3.171V0.743H-1Z", "symbolSize": 1225, "symbolStrokeWidth": 0, "symbolOpacity": 1}}
          }
        },
        {
          "data": {"name": "grid"},
          "mark": {"type": "rule", "stroke": "#b0b0b0", "strokeWidth": 2.8, "strokeDash": [10.3, 4.5]},
          "encoding": {"y": {"field": "g", "type": "quantitative", "scale": {"domain": [0, 35534], "nice": false}}}
        },
        {
          "data": {"name": "notes"},
          "transform": [{"filter": "datum.p == 'd'"}],
          "mark": {"type": "rule", "stroke": "black", "strokeWidth": 3.5},
          "encoding": {
            "x": {"field": "sx", "type": "quantitative", "scale": {"domain": [-3.572, 65.572], "nice": false, "zero": false}, "axis": null},
            "x2": {"field": "ex"},
            "y": {"field": "sy", "type": "quantitative", "scale": {"domain": [0, 35534], "nice": false}},
            "y2": {"field": "ey"}
          }
        },
        {
          "data": {"name": "notes"},
          "transform": [{"filter": "datum.p == 'd'"}],
          "mark": {"type": "point", "shape": "M-0.5,1L0,0L0.5,1", "size": 773, "filled": false, "stroke": "black", "strokeWidth": 3.5, "opacity": 1},
          "encoding": {
            "x": {"field": "ex", "type": "quantitative", "scale": {"domain": [-3.572, 65.572], "nice": false, "zero": false}, "axis": null},
            "y": {"field": "ey", "type": "quantitative", "scale": {"domain": [0, 35534], "nice": false}},
            "angle": {"field": "ang", "type": "quantitative", "scale": null}
          }
        },
        {
          "data": {"name": "notes"},
          "transform": [{"filter": "datum.p == 'd'"}],
          "mark": {"type": "point", "filled": true, "size": 100489, "fill": "#1f77b4", "fillOpacity": 0.4, "stroke": "black", "strokeOpacity": 0.4, "strokeWidth": 3.5, "opacity": 1},
          "encoding": {
            "x": {"field": "tx", "type": "quantitative", "scale": {"domain": [-3.572, 65.572], "nice": false, "zero": false}, "axis": null},
            "y": {"field": "ty", "type": "quantitative", "scale": {"domain": [0, 35534], "nice": false}},
            "shape": {"field": "kind", "type": "nominal", "legend": null,
              "scale": {"domain": ["MIN", "MAX"], "range": ["M-0.902,-0.183L0.902,-0.183Q0.965,-0.183 0.965,-0.12L0.965,0.12Q0.965,0.183 0.902,0.183L-0.902,0.183Q-0.965,0.183 -0.965,0.12L-0.965,-0.12Q-0.965,-0.183 -0.902,-0.183Z", "M-0.937,-0.183L0.937,-0.183Q1,-0.183 1,-0.12L1,0.12Q1,0.183 0.937,0.183L-0.937,0.183Q-1,0.183 -1,0.12L-1,-0.12Q-1,-0.183 -0.937,-0.183Z"]}}
          }
        },
        {
          "data": {"name": "notes"},
          "transform": [{"filter": "datum.p == 'd'"}],
          "mark": {"type": "text", "fontSize": 34.7, "align": "center", "baseline": "middle", "color": "black"},
          "encoding": {
            "x": {"field": "tx", "type": "quantitative", "scale": {"domain": [-3.572, 65.572], "nice": false, "zero": false}, "axis": null},
            "y": {"field": "ty", "type": "quantitative", "scale": {"domain": [0, 35534], "nice": false}},
            "text": {"field": "label"}
          }
        }
      ]
    }
  ]
}
